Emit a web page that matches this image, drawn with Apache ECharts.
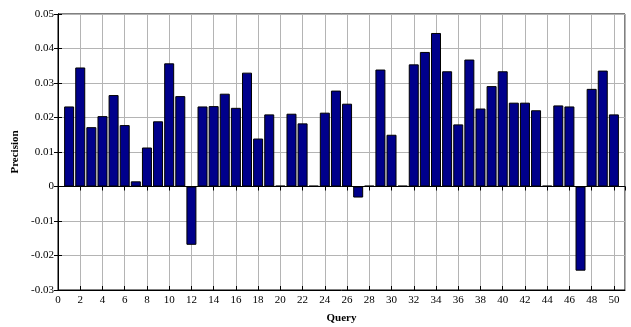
<!DOCTYPE html>
<html>
<head>
<meta charset="utf-8">
<script src="https://cdn.jsdelivr.net/npm/echarts@6/dist/echarts.min.js"></script>
<style>
  html, body { margin: 0; padding: 0; background: #fff; }
  #chart { width: 631px; height: 327px; }
</style>
</head>
<body>
<div id="chart"></div>
<script>
// Query numbers and their precision values
const queries = [1,2,3,4,5,6,7,8,9,10,11,12,13,14,15,16,17,18,19,20,21,22,23,24,25,26,27,28,29,30,31,32,33,34,35,36,37,38,39,40,41,42,43,44,45,46,47,48,49,50];
const precision = [
  0.0232, 0.0345, 0.0172, 0.0204, 0.0265, 0.0178, 0.0015, 0.0113, 0.0189, 0.0357,
  0.0262, -0.0169, 0.0232, 0.0233, 0.0269, 0.0228, 0.0330, 0.0139, 0.0209, 0.0002,
  0.0211, 0.0183, 0.0002, 0.0214, 0.0278, 0.0240, -0.0032, 0.0002, 0.0339, 0.0150,
  0.0002, 0.0354, 0.0390, 0.0445, 0.0334, 0.0180, 0.0368, 0.0226, 0.0291, 0.0334,
  0.0243, 0.0243, 0.0221, 0.0002, 0.0235, 0.0232, -0.0244, 0.0283, 0.0336, 0.0209
];

const font = 'Liberation Serif';
const chart = echarts.init(document.getElementById('chart'));

const gridLine = { show: true, lineStyle: { color: '#b4b4b4', width: 1 } };

chart.setOption({
  animation: false,
  backgroundColor: '#fff',
  grid: {
    left: 58, right: 6, top: 14, bottom: 37,
    outerBoundsMode: 'none', containLabel: false,
    show: true, borderColor: '#000', borderWidth: 1, backgroundColor: 'transparent'
  },
  xAxis: [{
    type: 'value', min: 0, max: 51, interval: 2,
    name: 'Query', nameLocation: 'middle', nameGap: 23,
    nameTextStyle: { fontFamily: font, fontWeight: 'bold', fontSize: 11, color: '#000' },
    axisLine: { show: true, onZero: false, lineStyle: { color: '#000' } },
    axisTick: { show: true, inside: true, length: 4, lineStyle: { color: '#000' } },
    axisLabel: { fontFamily: font, fontSize: 11, color: '#000', margin: 5, showMaxLabel: false,
      formatter: v => (v > 50 ? '' : String(v)) },
    splitLine: gridLine
  }, {
    type: 'value', min: 0, max: 51, interval: 2, position: 'top',
    axisLine: { show: true, lineStyle: { color: '#000' } },
    axisTick: { show: true, inside: true, length: 4, lineStyle: { color: '#000' } },
    axisLabel: { show: false }, splitLine: { show: false }
  }],
  yAxis: [{
    type: 'value', min: -0.03, max: 0.05, interval: 0.01,
    name: 'Precision', nameLocation: 'middle', nameGap: 35, nameRotate: 90,
    nameTextStyle: { fontFamily: font, fontWeight: 'bold', fontSize: 11, color: '#000' },
    axisLine: { show: true, onZero: false, lineStyle: { color: '#000' } },
    axisTick: { show: true, inside: true, length: 4, lineStyle: { color: '#000' } },
    axisLabel: { fontFamily: font, fontSize: 11, color: '#000', margin: 4,
      formatter: v => { const r = Math.round(v * 100) / 100; return r === 0 ? '0' : String(r); } },
    splitLine: gridLine
  }, {
    type: 'value', min: -0.03, max: 0.05, interval: 0.01, position: 'right',
    axisLine: { show: true, lineStyle: { color: '#000' } },
    axisTick: { show: true, inside: true, length: 4, lineStyle: { color: '#000' } },
    axisLabel: { show: false }, splitLine: { show: false }
  }],
  series: [{
    type: 'bar',
    xAxisIndex: 0, yAxisIndex: 0,
    barWidth: 10,
    data: queries.map((q, i) => [q, precision[i]]),
    itemStyle: { color: '#00008b', borderColor: '#000', borderWidth: 1 }
  }]
});
</script>
</body>
</html>
